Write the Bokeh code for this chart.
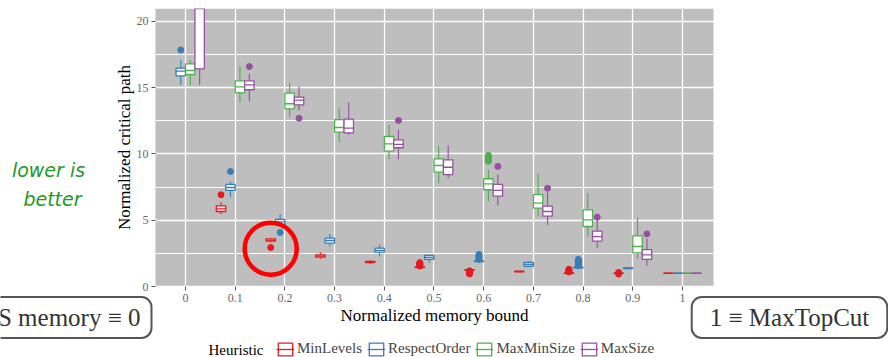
from bokeh.plotting import figure
from bokeh.models import (ColumnDataSource, FixedTicker, Label, Legend, LegendItem, Range1d,
                          BoxAnnotation)
from bokeh.transform import dodge
from bokeh.embed import file_html
from bokeh.resources import INLINE

# ---------------- data ----------------
heuristics = ["MinLevels", "RespectOrder", "MaxMinSize", "MaxSize"]
colors = ["#e41a1c", "#377eb8", "#4daf4a", "#984ea3"]

x_ticks = [0, 0.1, 0.2, 0.3, 0.4, 0.5, 0.6, 0.7, 0.8, 0.9, 1]
x_tick_labels = ["0", "0.1", "0.2", "0.3", "0.4", "0.5", "0.6", "0.7", "0.8", "0.9", "1"]
y_ticks = [0, 5, 10, 15, 20]
y_minor_ticks = [2.5, 7.5, 12.5, 17.5]

# MinLevels (no value at memory bound 0)
minlevels_x = [0.1, 0.2, 0.3, 0.4, 0.5, 0.6, 0.7, 0.8, 0.9, 1.0]
minlevels_lower = [5.46, 3.34, 2.09, 1.72, 1.40, 1.22, 1.09, 0.97, 0.97, 1.0]
minlevels_q1 = [5.66, 3.42, 2.21, 1.80, 1.42, 1.24, 1.11, 0.99, 0.99, 1.0]
minlevels_med = [5.86, 3.50, 2.30, 1.85, 1.45, 1.26, 1.13, 1.00, 1.00, 1.0]
minlevels_q3 = [6.09, 3.60, 2.39, 1.90, 1.48, 1.28, 1.15, 1.02, 1.01, 1.0]
minlevels_upper = [6.36, 3.67, 2.59, 1.98, 1.50, 1.30, 1.17, 1.04, 1.03, 1.0]
minlevels_out_x = [0.1, 0.2, 0.5, 0.5, 0.5, 0.5, 0.5, 0.5, 0.6, 0.6, 0.6, 0.6, 0.6,
                   0.8, 0.8, 0.8, 0.8, 0.8, 0.9, 0.9]
minlevels_out_y = [6.92, 2.94, 1.55, 1.60, 1.65, 1.70, 1.75, 1.80, 1.18, 1.12, 1.06, 1.00, 0.95,
                   1.10, 1.15, 1.20, 1.25, 1.30, 1.06, 0.94]

# RespectOrder
respect_x = [0, 0.1, 0.2, 0.3, 0.4, 0.5, 0.6, 0.7, 0.8, 0.9, 1.0]
respect_lower = [15.20, 6.74, 4.48, 3.04, 2.26, 1.81, 1.80, 1.46, 1.38, 1.34, 1.0]
respect_q1 = [15.90, 7.25, 4.68, 3.27, 2.59, 2.04, 1.88, 1.53, 1.41, 1.36, 1.0]
respect_med = [16.25, 7.47, 4.88, 3.47, 2.72, 2.19, 1.90, 1.67, 1.43, 1.38, 1.0]
respect_q3 = [16.48, 7.70, 5.06, 3.65, 2.89, 2.34, 1.93, 1.81, 1.46, 1.40, 1.0]
respect_upper = [17.10, 7.92, 5.48, 3.97, 3.15, 2.39, 1.98, 1.91, 1.50, 1.42, 1.0]
respect_out_x = [0, 0.1, 0.2, 0.6, 0.6, 0.6, 0.6, 0.6, 0.6,
                 0.8, 0.8, 0.8, 0.8, 0.8, 0.8, 0.8]
respect_out_y = [17.85, 8.68, 4.08, 2.05, 2.12, 2.20, 2.28, 2.35, 2.42,
                 1.58, 1.66, 1.74, 1.82, 1.90, 1.98, 2.05]

# MaxMinSize
maxmin_x = [0, 0.1, 0.2, 0.3, 0.4, 0.5, 0.6, 0.7, 0.8, 0.9, 1.0]
maxmin_lower = [15.20, 13.91, 12.78, 10.89, 9.63, 7.80, 6.42, 5.31, 3.77, 2.09, 1.0]
maxmin_q1 = [16.00, 14.62, 13.41, 11.65, 10.21, 8.63, 7.30, 5.91, 4.53, 2.54, 1.0]
maxmin_med = [16.30, 15.07, 13.79, 12.00, 10.77, 9.13, 7.75, 6.29, 5.03, 3.02, 1.0]
maxmin_q3 = [16.80, 15.52, 14.59, 12.60, 11.32, 9.63, 8.13, 6.94, 5.79, 3.82, 1.0]
maxmin_upper = [17.10, 16.63, 15.37, 13.46, 12.20, 10.59, 8.81, 8.50, 7.04, 5.18, 1.0]
maxmin_out_x = [0.6, 0.6, 0.6, 0.6]
maxmin_out_y = [9.45, 9.60, 9.75, 9.90]

# MaxSize (box at bound 0 extends far above the visible range)
maxsize_x = [0, 0.1, 0.2, 0.3, 0.4, 0.5, 0.6, 0.7, 0.8, 0.9, 1.0]
maxsize_lower = [15.20, 13.98, 13.28, 11.45, 9.61, 8.17, 6.11, 4.65, 2.92, 1.58, 1.0]
maxsize_q1 = [16.43, 14.85, 13.71, 11.60, 10.47, 8.45, 6.82, 5.31, 3.42, 2.04, 1.0]
maxsize_med = [24.00, 15.22, 14.06, 11.95, 10.72, 9.00, 7.25, 5.66, 3.77, 2.39, 1.0]
maxsize_q3 = [27.00, 15.52, 14.29, 12.63, 11.07, 9.56, 7.70, 6.06, 4.18, 2.79, 1.0]
maxsize_upper = [30.00, 16.05, 15.09, 13.91, 11.83, 10.64, 8.45, 7.12, 5.03, 3.60, 1.0]
maxsize_out_x = [0.1, 0.2, 0.4, 0.6, 0.7, 0.8, 0.9]
maxsize_out_y = [16.60, 12.70, 12.53, 9.06, 7.42, 5.23, 3.97]

# highlighted point (red ring around MinLevels at memory bound 0.2)
highlight_x = [0.2]
highlight_y = [2.85]

series = [
    (minlevels_x, minlevels_lower, minlevels_q1, minlevels_med, minlevels_q3, minlevels_upper,
     minlevels_out_x, minlevels_out_y),
    (respect_x, respect_lower, respect_q1, respect_med, respect_q3, respect_upper,
     respect_out_x, respect_out_y),
    (maxmin_x, maxmin_lower, maxmin_q1, maxmin_med, maxmin_q3, maxmin_upper,
     maxmin_out_x, maxmin_out_y),
    (maxsize_x, maxsize_lower, maxsize_q1, maxsize_med, maxsize_q3, maxsize_upper,
     maxsize_out_x, maxsize_out_y),
]

# ---------------- layout constants ----------------
SERIF = "Liberation Serif"
BOX_W = 0.019
offsets = [-1.5 * BOX_W, -0.5 * BOX_W, 0.5 * BOX_W, 1.5 * BOX_W]
PANEL_X = (-0.0604, 1.0624)     # visible panel in data units
PANEL_Y = (0.0, 20.98)

# The frame covers the canvas below an 8px top border; the grey panel, grid and axes
# are bounded to PANEL_*.
p = figure(width=888, height=357,
           x_range=Range1d(-0.3722, 1.4145), y_range=Range1d(-5.358, PANEL_Y[1]),
           output_backend="svg", toolbar_location=None,
           min_border_left=0, min_border_right=0, min_border_top=8, min_border_bottom=0,
           background_fill_color="white", border_fill_color="white",
           outline_line_color=None)

p.add_layout(BoxAnnotation(left=PANEL_X[0], right=PANEL_X[1], bottom=PANEL_Y[0], top=PANEL_Y[1],
                           fill_color="#bebebe", fill_alpha=1.0, line_color=None,
                           level="image"))

# axes
p.xaxis.ticker = FixedTicker(ticks=x_ticks)
p.xaxis.major_label_overrides = {t: lab for t, lab in zip(x_ticks, x_tick_labels)}
p.yaxis.ticker = FixedTicker(ticks=y_ticks, minor_ticks=y_minor_ticks)
p.xaxis.fixed_location = PANEL_Y[0]
p.yaxis.fixed_location = PANEL_X[0]
p.xaxis.bounds = PANEL_X
p.yaxis.bounds = PANEL_Y
for ax in (p.xaxis[0], p.yaxis[0]):
    ax.axis_line_color = None
    ax.major_tick_line_color = "#555555"
    ax.major_tick_out = 4
    ax.major_tick_in = 0
    ax.minor_tick_out = 0
    ax.minor_tick_in = 0
    ax.major_label_text_font = SERIF
    ax.major_label_text_font_size = "12px"
    ax.major_label_text_color = "#666666"
    ax.major_label_standoff = 3
    ax.axis_label_text_font = SERIF
    ax.axis_label_text_font_size = "17px"
    ax.axis_label_text_font_style = "normal"
    ax.axis_label_text_color = "black"
p.xaxis.axis_label = "Normalized memory bound"
p.yaxis.axis_label = "Normalized critical path"
p.xaxis.axis_label_standoff = 1
p.yaxis.axis_label_standoff = 0

# grid
p.xgrid.ticker = p.xaxis.ticker
p.ygrid.ticker = p.yaxis.ticker
p.xgrid.grid_line_color = "white"
p.xgrid.grid_line_width = 1.3
p.ygrid.grid_line_color = "white"
p.ygrid.grid_line_width = 1.3
p.ygrid.minor_grid_line_color = "white"
p.ygrid.minor_grid_line_width = 1.0
p.xgrid.bounds = PANEL_X
p.ygrid.bounds = PANEL_Y
p.xgrid.cross_bounds = PANEL_Y
p.ygrid.cross_bounds = PANEL_X

legend_items = []
for name, color, off, s in zip(heuristics, colors, offsets, series):
    xs, lo, q1, med, q3, hi, ox, oy = s
    src = ColumnDataSource(dict(x=xs, lower=lo, q1=q1, med=med, q3=q3, upper=hi))
    p.segment(x0=dodge("x", off, range=p.x_range), y0="upper",
              x1=dodge("x", off, range=p.x_range), y1="q3",
              source=src, line_color=color, line_width=1.1)
    p.segment(x0=dodge("x", off, range=p.x_range), y0="lower",
              x1=dodge("x", off, range=p.x_range), y1="q1",
              source=src, line_color=color, line_width=1.1)
    box = p.vbar(x=dodge("x", off, range=p.x_range), width=BOX_W, top="q3", bottom="q1",
                 source=src, fill_color="white", line_color=color, line_width=1.3)
    medr = p.segment(x0=dodge("x", off - BOX_W / 2, range=p.x_range), y0="med",
                     x1=dodge("x", off + BOX_W / 2, range=p.x_range), y1="med",
                     source=src, line_color=color, line_width=1.3)
    osrc = ColumnDataSource(dict(x=ox, y=oy))
    p.scatter(x=dodge("x", off, range=p.x_range), y="y", source=osrc, size=6,
              marker="circle", fill_color=color, line_color=color)
    legend_items.append(LegendItem(label=name, renderers=[box, medr]))

# red highlight ring
hsrc = ColumnDataSource(dict(x=highlight_x, y=highlight_y))
p.scatter(x=dodge("x", offsets[0], range=p.x_range), y="y", source=hsrc, marker="circle",
          size=52, fill_color=None, line_color="#ff0000", line_width=4.5)

# screen units below are relative to the canvas' bottom-left corner
legend = Legend(items=legend_items, orientation="horizontal", location=(276, 0),
                background_fill_alpha=0, border_line_color=None, padding=0, margin=0,
                spacing=5, glyph_width=18, glyph_height=16, label_standoff=3,
                label_text_font=SERIF, label_text_font_size="15px",
                label_text_baseline="middle")
p.add_layout(legend, "center")

p.add_layout(Label(x=208, y=8, x_units="screen", y_units="screen", text="Heuristic",
                   text_font=SERIF, text_font_size="15px", text_align="left",
                   text_baseline="middle", text_color="black"))

green = "#229922"
p.add_layout(Label(x=48, y=188, x_units="screen", y_units="screen", text="lower is",
                   text_font="DejaVu Sans", text_font_style="italic", text_font_size="19px",
                   text_align="center", text_baseline="middle", text_color=green))
p.add_layout(Label(x=52, y=159, x_units="screen", y_units="screen", text="better",
                   text_font="DejaVu Sans", text_font_style="italic", text_font_size="19px",
                   text_align="center", text_baseline="middle", text_color=green))

p.add_layout(Label(x=151, y=40, x_units="screen", y_units="screen", text="S memory \u2261 0",
                   text_font=SERIF, text_font_size="25px", text_align="right",
                   text_baseline="middle", text_color="#333333",
                   border_line_color="#555555", border_line_width=2, border_radius=10,
                   padding=(11, 7), background_fill_color="white"))
p.add_layout(Label(x=789, y=40, x_units="screen", y_units="screen", text="1 \u2261 MaxTopCut",
                   text_font=SERIF, text_font_size="25px", text_align="center",
                   text_baseline="middle", text_color="#333333",
                   border_line_color="#555555", border_line_width=2, border_radius=10,
                   padding=(18, 7), background_fill_color="white"))

open("out.html", "w").write(file_html(p, INLINE))
